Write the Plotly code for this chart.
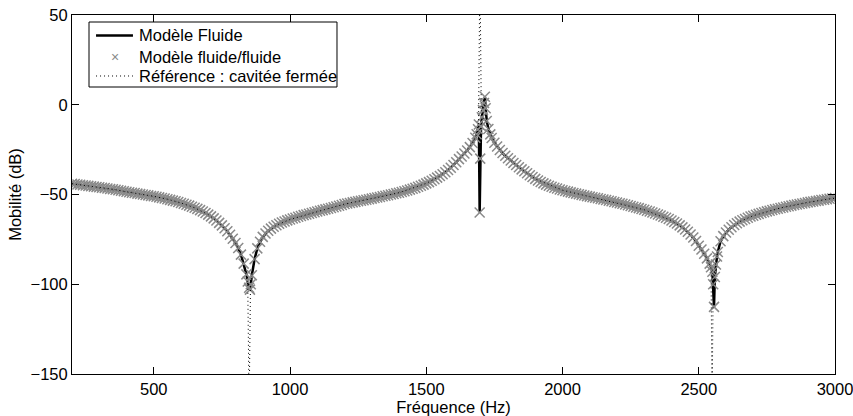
import plotly.graph_objects as go

# mobility (dB), fluid models
freq = (list(range(200, 800, 10))
        + [800, 810, 820, 830, 840, 845, 850, 853, 856, 860, 870, 880, 890]
        + list(range(900, 1600, 10))
        + [1600, 1610, 1620, 1630, 1640, 1650, 1660, 1670, 1680, 1685,
           1690, 1693, 1696, 1698, 1701, 1704, 1708, 1712, 1715, 1718,
           1722, 1728, 1735, 1740, 1750, 1760, 1770, 1780, 1790]
        + list(range(1800, 2500, 10))
        + [2500, 2510, 2520, 2530, 2540, 2545, 2550, 2553, 2556, 2559,
           2563, 2567, 2570, 2580, 2590]
        + list(range(2600, 3001, 10)))

mob = [
    -44.0, -44.2, -44.4, -44.6, -44.8, -45.0, -45.2, -45.4, -45.6, -45.8,
    -46.0, -46.2, -46.4, -46.7, -46.9, -47.1, -47.4, -47.6, -47.9, -48.2,
    -48.5, -48.7, -49.0, -49.2, -49.5, -49.7, -50.0, -50.3, -50.5, -50.8,
    -51.0, -51.3, -51.6, -51.9, -52.2, -52.6, -53.0, -53.4, -53.8, -54.2,
    -54.7, -55.2, -55.7, -56.2, -56.8, -57.4, -58.0, -58.7, -59.5, -60.3,
    -61.2, -62.2, -63.3, -64.5, -65.8, -67.2, -68.8, -70.5, -72.4, -74.6,
    # 800 - 890
    -77.0, -79.8, -83.5, -88.5, -94.5, -98.5, -102.0, -103.0, -100.0, -95.0,
    -86.0, -80.0, -76.3,
    # 900 - 1590
    -73.6, -71.7, -70.2, -69.0, -68.0, -67.1, -66.3, -65.6, -65.0, -64.4,
    -63.9, -63.4, -62.9, -62.4, -62.0, -61.5, -61.1, -60.7, -60.3, -59.9,
    -59.5, -59.1, -58.7, -58.3, -57.9, -57.5, -57.1, -56.7, -56.3, -55.9,
    -55.3, -55.0, -54.7, -54.4, -54.1, -53.8, -53.5, -53.2, -52.9, -52.6,
    -52.3, -52.0, -51.7, -51.4, -51.0, -50.7, -50.4, -50.0, -49.7, -49.3,
    -49.0, -48.6, -48.2, -47.8, -47.3, -46.8, -46.3, -45.7, -45.1, -44.5,
    -43.8, -43.1, -42.3, -41.5, -40.6, -39.7, -38.7, -37.6, -36.4, -35.1,
    # 1600 - 1790
    -33.6, -32.0, -30.3, -28.8, -27.2, -25.5, -23.6, -21.3, -18.4, -16.4,
    -13.6, -11.0, -60.0, -30.0, -12.0, -7.0, -3.0, 1.0, 4.5, -2.0,
    -9.0, -13.5, -16.5, -18.5, -21.2, -23.3, -25.2, -26.9, -28.4,
    # 1800 - 2490
    -29.8, -31.1, -32.4, -33.6, -34.8, -36.0, -37.1, -38.2, -39.3, -40.3,
    -41.3, -42.2, -43.0, -43.8, -44.5, -45.1, -45.7, -46.2, -46.7, -47.2,
    -47.6, -48.0, -48.4, -48.8, -49.2, -49.5, -49.9, -50.2, -50.6, -50.9,
    -51.2, -51.5, -51.8, -52.1, -52.5, -52.8, -53.1, -53.5, -53.8, -54.2,
    -54.5, -54.9, -55.2, -55.6, -56.0, -56.4, -56.8, -57.2, -57.6, -58.1,
    -58.5, -59.0, -59.5, -60.0, -60.6, -61.1, -61.7, -62.4, -63.0, -63.7,
    -64.5, -65.3, -66.2, -67.2, -68.3, -69.5, -70.8, -72.3, -74.0, -75.9,
    # 2500 - 2590
    -78.5, -80.6, -83.0, -85.6, -88.5, -90.5, -93.0, -100.0, -112.6, -96.0,
    -89.0, -84.5, -82.0, -76.0, -73.2,
    # 2600 - 3000
    -71.2, -69.6, -68.2, -67.0, -66.0, -65.1, -64.3, -63.6, -62.9, -62.3,
    -61.8, -61.3, -60.8, -60.3, -59.9, -59.4, -59.0, -58.6, -58.2, -57.9,
    -57.5, -57.2, -56.8, -56.5, -56.2, -55.9, -55.6, -55.3, -55.0, -54.7,
    -54.4, -54.1, -53.9, -53.6, -53.4, -53.1, -52.9, -52.6, -52.4, -52.2,
    -52.0,
]

# closed cavity reference
ref_freq = [200, 250, 300, 350, 400, 450, 500, 550, 600, 650,
            700, 740, 770, 800, 820, 835, 845, 850, 855, 865,
            880, 900, 950, 1000, 1100, 1200, 1300, 1400, 1500, 1550,
            1600, 1640, 1670, 1685, 1692, 1697, 1702, 1710, 1722, 1735,
            1760, 1800, 1850, 1900, 2000, 2100, 2200, 2300, 2400, 2450,
            2500, 2530, 2545, 2549, 2553, 2562, 2575, 2600, 2650, 2700,
            2800, 2900, 3000]
ref_mob = [-44.0, -45.0, -46.0, -47.1, -48.5, -49.7, -51.0, -52.6, -54.7, -57.4,
           -61.2, -65.8, -70.5, -77.0, -83.5, -91.5, -100, -170, -100, -90,
           -80, -73.6, -67.1, -63.9, -59.5, -55.3, -52.3, -49.0, -43.8, -39.7,
           -33.6, -27.2, -21.3, -16.4, -10, 80, -5, -8, -9.5, -15.5,
           -23.3, -29.8, -36.0, -41.3, -47.6, -51.2, -54.5, -58.5, -64.5, -69.5,
           -78.5, -85.6, -91, -170, -98, -88, -79, -71.2, -65.1, -61.8,
           -57.5, -54.4, -52.0]

names = ["Modèle Fluide", "Modèle fluide/fluide", "Référence : cavitée fermée"]

assert len(freq) == len(mob)
assert len(ref_freq) == len(ref_mob)

font = "Liberation Sans, Arial, Helvetica, sans-serif"
fs = 16.5
grey = "#8a8a8a"

fig = go.Figure()
fig.add_trace(go.Scatter(x=freq, y=mob, mode="lines", name=names[0],
                         line=dict(color="black", width=2.5)))
fig.add_trace(go.Scatter(x=freq, y=mob, mode="markers", name=names[1],
                         marker=dict(symbol="x-thin", size=10, color=grey,
                                     line=dict(color=grey, width=1.5))))
fig.add_trace(go.Scatter(x=ref_freq, y=ref_mob, mode="lines", name=names[2],
                         line=dict(color="black", width=1, dash="1px,3px")))

axis = dict(showline=True, linecolor="black", linewidth=1, mirror="ticks",
            ticks="inside", ticklen=7, tickcolor="black", showgrid=False,
            zeroline=False, automargin=False, ticklabeloverflow="allow",
            tickfont=dict(size=fs, color="black"))

# legend box drawn in the plot corner (matlab style, tight rows)
lx0, lx1, ly0, ly1 = 0.0223, 0.3473, 0.7994, 0.9805
rows = [0.943, 0.8844, 0.8301]
shapes = [dict(type="rect", xref="x domain", yref="y domain",
               x0=lx0, x1=lx1, y0=ly0, y1=ly1,
               line=dict(color="black", width=1), fillcolor="white", layer="above"),
          dict(type="line", xref="x domain", yref="y domain",
               x0=0.0315, x1=0.0799, y0=rows[0], y1=rows[0],
               line=dict(color="black", width=2.5), layer="above"),
          dict(type="line", xref="x domain", yref="y domain",
               x0=0.0315, x1=0.0799, y0=rows[2], y1=rows[2],
               line=dict(color="black", width=1, dash="1px,3px"), layer="above")]
annotations = [dict(xref="x domain", yref="y domain", x=0.0852, y=r, text=t,
                    showarrow=False, xanchor="left", yanchor="middle",
                    font=dict(size=fs, color="black"))
               for r, t in zip(rows, names)]
annotations.append(dict(xref="x domain", yref="y domain", x=0.0564, y=rows[1],
                        text="×", showarrow=False, xanchor="center", yanchor="middle",
                        font=dict(size=14, color=grey)))

fig.update_layout(
    width=853, height=416,
    margin=dict(l=72, r=18, t=15, b=42),
    paper_bgcolor="white", plot_bgcolor="white",
    font=dict(family=font, size=fs, color="black"),
    xaxis=dict(axis, range=[200, 3000], tickvals=[500, 1000, 1500, 2000, 2500, 3000],
               title=dict(text="Fréquence (Hz)", standoff=0, font=dict(size=fs))),
    yaxis=dict(axis, range=[-150, 50], tickvals=[-150, -100, -50, 0, 50],
               title=dict(text="Mobilité (dB)", standoff=4, font=dict(size=fs))),
    shapes=shapes,
    annotations=annotations,
    showlegend=False,
)

# drop the default page margin so the figure sits at the window corner
fig.write_html("out.html", config={"displayModeBar": False},
               post_script="document.body.style.margin='0';document.body.style.overflow='hidden';")
